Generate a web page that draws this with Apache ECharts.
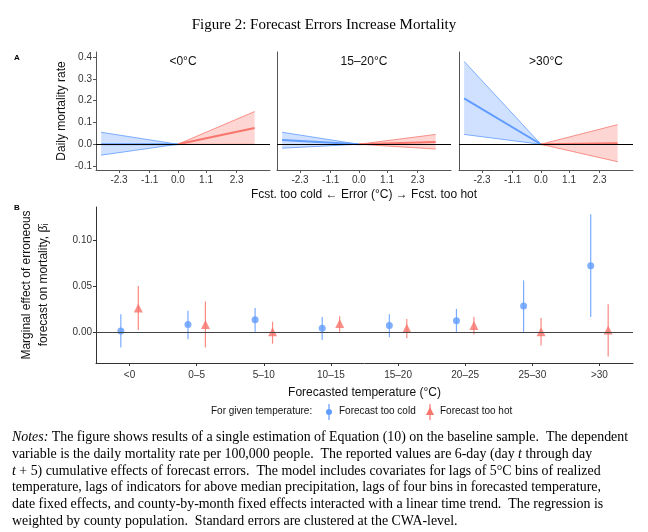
<!DOCTYPE html>
<html><head><meta charset="utf-8">
<script src="https://cdn.jsdelivr.net/npm/echarts@6/dist/echarts.min.js"></script>
<style>html,body{margin:0;padding:0;background:#fff}#c{width:648px;height:532px}</style>
</head><body><div id="c"></div>
<script>
// Panel A: bands at x = -3 (cold) and x = 3 (hot); [center, lower, upper]
const panelTitles = ['<0°C', '15–20°C', '>30°C'];
const coldEnd = [[0.0, -0.05, 0.055], [0.02, -0.018, 0.055], [0.21, 0.045, 0.38]];
const hotEnd = [[0.075, 0.0, 0.15], [0.01, -0.022, 0.045], [0.005, -0.08, 0.09]];
const errX = [-3, 0, 3];
const errTicks = [-2.3, -1.1, 0.0, 1.1, 2.3];
const rateTicks = [-0.1, 0, 0.1, 0.2, 0.3, 0.4];
// Panel B
const categories = ['<0', '0–5', '5–10', '10–15', '15–20', '20–25', '25–30', '>30'];
const coldEst = [0.001, 0.008, 0.013, 0.004, 0.007, 0.012, 0.028, 0.072];
const coldLo = [-0.017, -0.008, 0.0, -0.009, -0.006, 0.0, 0.0, 0.016];
const coldHi = [0.019, 0.023, 0.026, 0.016, 0.019, 0.025, 0.056, 0.128];
const hotEst = [0.026, 0.008, 0.0, 0.009, 0.004, 0.007, 0.0, 0.002];
const hotLo = [0.002, -0.017, -0.013, 0.0, -0.007, -0.003, -0.015, -0.027];
const hotHi = [0.05, 0.033, 0.011, 0.017, 0.014, 0.016, 0.015, 0.03];
const effTicks = [0, 0.05, 0.10];

const BLUE = '#619CFF', RED = '#F8766D';
const FONT = 'Liberation Sans';
const chart = echarts.init(document.getElementById('c'));
const grids = [], xAxes = [], yAxes = [], series = [], graphics = [];
const lefts = [96, 277, 459];
for (let p = 0; p < 3; p++) {
  grids.push({left: lefts[p], top: 52, width: 174, height: 118});
  xAxes.push({type: 'value', gridIndex: p, min: -3.2, max: 3.6,
    axisLine: {show: true, onZero: false, lineStyle: {color: '#555'}},
    axisTick: {show: true, customValues: errTicks, length: 3, lineStyle: {color: '#555'}},
    axisLabel: {customValues: errTicks, formatter: v => v.toFixed(1), color: '#333', fontFamily: FONT, fontSize: 10, margin: 5},
    splitLine: {show: false}});
  yAxes.push({type: 'value', gridIndex: p, min: -0.118, max: 0.423,
    axisLine: {show: true, onZero: false, lineStyle: {color: '#555'}},
    axisTick: {show: p === 0, customValues: rateTicks, length: 3},
    axisLabel: {show: p === 0, customValues: rateTicks, formatter: v => v.toFixed(1), color: '#333', fontFamily: FONT, fontSize: 10, margin: 4},
    splitLine: {show: false},
    name: p === 0 ? 'Daily mortality rate' : '', nameLocation: 'middle', nameGap: 28,
    nameTextStyle: {fontFamily: FONT, fontSize: 12, color: '#111'}});
  const bands = [[coldEnd[p], BLUE, errX[0]], [hotEnd[p], RED, errX[2]]];
  bands.forEach(([v, col, xe], k) => {
    // band triangle: [x, lower, upper, center]
    const pts = [[errX[1], 0, 0, 0], [xe, v[1], v[2], v[0]]];
    series.push({type: 'custom', xAxisIndex: p, yAxisIndex: p, data: pts, silent: true, z: 2,
      renderItem: (params, api) => {
        if (params.dataIndex !== 0) return null;
        const c = pts.map(q => [api.coord([q[0], q[1]]), api.coord([q[0], q[2]]), api.coord([q[0], q[3]])]);
        return {type: 'group', children: [
          {type: 'polygon', shape: {points: [c[0][0], c[1][0], c[1][1]]}, style: {fill: col, opacity: 0.3}},
          {type: 'line', shape: {x1: c[0][0][0], y1: c[0][0][1], x2: c[1][0][0], y2: c[1][0][1]}, style: {stroke: col, lineWidth: 0.8}},
          {type: 'line', shape: {x1: c[0][1][0], y1: c[0][1][1], x2: c[1][1][0], y2: c[1][1][1]}, style: {stroke: col, lineWidth: 0.8}},
          {type: 'line', shape: {x1: c[0][2][0], y1: c[0][2][1], x2: c[1][2][0], y2: c[1][2][1]}, style: {stroke: col, lineWidth: 2}}
        ]};
      },
      markLine: k === 0 ? {symbol: 'none', silent: true, label: {show: false}, lineStyle: {color: '#000', width: 1, type: 'solid'}, data: [{yAxis: 0}]} : undefined});
  });
  graphics.push({type: 'text', x: lefts[p] + 87, y: 56, style: {text: panelTitles[p], font: '12px ' + FONT, fill: '#111', textAlign: 'center'}});
}
// Panel B
grids.push({left: 96, top: 207, width: 537, height: 156});
const idx = categories.map((c, i) => i);
xAxes.push({type: 'value', gridIndex: 3, min: -0.5, max: 7.5,
  axisLine: {show: true, onZero: false, lineStyle: {color: '#333'}},
  axisTick: {show: true, customValues: idx, length: 3},
  axisLabel: {customValues: idx, formatter: v => categories[Math.round(v)], color: '#333', fontFamily: FONT, fontSize: 10, margin: 7},
  splitLine: {show: false},
  name: 'Forecasted temperature (°C)', nameLocation: 'middle', nameGap: 24,
  nameTextStyle: {fontFamily: FONT, fontSize: 12, color: '#111'}});
yAxes.push({type: 'value', gridIndex: 3, min: -0.034, max: 0.136,
  axisLine: {show: true, onZero: false, lineStyle: {color: '#333'}},
  axisTick: {show: true, customValues: effTicks, length: 3},
  axisLabel: {customValues: effTicks, formatter: v => v.toFixed(2), color: '#333', fontFamily: FONT, fontSize: 10, margin: 4},
  splitLine: {show: false},
  name: 'Marginal effect of erroneous\nforecast on mortality, β̄ᵢ', nameLocation: 'middle', nameGap: 44,
  nameTextStyle: {fontFamily: FONT, fontSize: 12, color: '#111', lineHeight: 17}});
function bars(est, lo, hi, off, col, sym) {
  series.push({type: 'custom', xAxisIndex: 3, yAxisIndex: 3,
    data: est.map((e, i) => [i + off, lo[i], hi[i]]),
    renderItem: (params, api) => {
      const a = api.coord([api.value(0), api.value(1)]), b = api.coord([api.value(0), api.value(2)]);
      return {type: 'line', shape: {x1: a[0], y1: a[1], x2: b[0], y2: b[1]}, style: {stroke: col, lineWidth: 1.2, opacity: 0.85}};
    }, z: 3});
  series.push({type: 'scatter', xAxisIndex: 3, yAxisIndex: 3, data: est.map((e, i) => [i + off, e]),
    symbol: sym, symbolSize: sym === 'circle' ? 7 : 9, itemStyle: {color: col}, z: 4});
}
bars(coldEst, coldLo, coldHi, -0.13, BLUE, 'circle');
bars(hotEst, hotLo, hotHi, 0.13, RED, 'triangle');
series[series.length - 1].markLine = {symbol: 'none', silent: true, label: {show: false}, lineStyle: {color: '#444', width: 1.2, type: 'solid'}, data: [{yAxis: 0}]};

graphics.push(
  {type: 'text', left: 'center', top: 18, style: {text: 'Figure 2: Forecast Errors Increase Mortality', font: '15px Liberation Serif', fill: '#000'}},
  {type: 'text', left: 14, top: 54, style: {text: 'A', font: 'bold 8px ' + FONT, fill: '#000'}},
  {type: 'text', left: 14, top: 204, style: {text: 'B', font: 'bold 8px ' + FONT, fill: '#000'}},
  {type: 'text', x: 364, y: 189, style: {text: 'Fcst. too cold ← Error (°C) → Fcst. too hot', font: '12px ' + FONT, fill: '#111', textAlign: 'center'}},
  {type: 'text', left: 211, top: 406, style: {text: 'For given temperature:', font: '10px ' + FONT, fill: '#111'}},
  {type: 'line', shape: {x1: 329, y1: 404, x2: 329, y2: 420}, style: {stroke: BLUE, lineWidth: 1.2}},
  {type: 'circle', shape: {cx: 329, cy: 412, r: 3}, style: {fill: BLUE}},
  {type: 'text', left: 339, top: 406, style: {text: 'Forecast too cold', font: '10px ' + FONT, fill: '#111'}},
  {type: 'line', shape: {x1: 430, y1: 404, x2: 430, y2: 420}, style: {stroke: RED, lineWidth: 1.2}},
  {type: 'polygon', shape: {points: [[430, 407], [426, 415], [434, 415]]}, style: {fill: RED}},
  {type: 'text', left: 440, top: 406, style: {text: 'Forecast too hot', font: '10px ' + FONT, fill: '#111'}},
  {type: 'text', left: 12, top: 429, style: {
    text: '{i|Notes:} The figure shows results of a single estimation of Equation (10) on the baseline sample.  The dependent\n' +
      'variable is the daily mortality rate per 100,000 people.  The reported values are 6-day (day {i|t} through day\n' +
      '{i|t} + 5) cumulative effects of forecast errors.  The model includes covariates for lags of 5°C bins of realized\n' +
      'temperature, lags of indicators for above median precipitation, lags of four bins in forecasted temperature,\n' +
      'date fixed effects, and county-by-month fixed effects interacted with a linear time trend.  The regression is\n' +
      'weighted by county population.  Standard errors are clustered at the CWA-level.',
    font: '13.9px Liberation Serif', fill: '#000', lineHeight: 16.8,
    rich: {i: {fontStyle: 'italic', fontFamily: 'Liberation Serif', fontSize: 13.9}}}}
);
chart.setOption({animation: false, grid: grids, xAxis: xAxes, yAxis: yAxes, series, graphic: graphics});
</script></body></html>
